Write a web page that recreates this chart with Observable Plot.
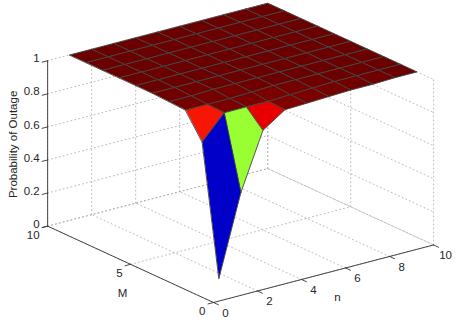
<!DOCTYPE html>
<html><head><meta charset="utf-8">
<script src="https://cdn.jsdelivr.net/npm/d3@7"></script>
<script src="https://cdn.jsdelivr.net/npm/@observablehq/plot@0.6"></script>
<style>html,body{margin:0;padding:0;background:#fff}svg{display:block}</style>
</head><body><div id="c"></div>
<script>
const nValues = [1,2,3,4,5,6,7,8,9,10];
const mValues = [1,2,3,4,5,6,7,8,9,10];
const outageM1  = [0.065,0.55,0.89,0.98,0.985,0.99,0.995,0.995,1,1];
const outageM2  = [0.844,0.985,0.986,0.985,0.99,0.995,1,1,1,1];
const outageM3  = [0.99,0.99,0.99,0.995,1,1,1,1,1,1];
const outageM4  = [0.995,0.995,1,1,1,1,1,1,1,1];
const outageM5  = [1,1,1,1,1,1,1,1,1,1];
const outageM6  = [1,1,1,1,1,1,1,1,1,1];
const outageM7  = [1,1,1,1,1,1,1,1,1,1];
const outageM8  = [1,1,1,1,1,1,1,1,1,1];
const outageM9  = [1,1,1,1,1,1,1,1,1,1];
const outageM10 = [1,1,1,1,1,1,1,1,1,1];
const outage = [outageM1,outageM2,outageM3,outageM4,outageM5,outageM6,outageM7,outageM8,outageM9,outageM10];
const nTicks = [0,2,4,6,8,10];
const mTicks = [0,5,10];
const zTicks = [0,0.2,0.4,0.6,0.8,1];
const zTickLabels = ["0","0.2","0.4","0.6","0.8","1"];
const colorStops = [0.065,0.55,0.87,1];
const colorRange = ["#0000c8","#99ff33","#ff0000","#6a0000"];

// orthographic view of the unit box
const az = -37*Math.PI/180, el = 20.3*Math.PI/180, zStretch = 0.64;
const px = (n,M) => n/10*Math.cos(az) + M/10*Math.sin(az);
const py = (n,M,z) => (-n/10*Math.sin(az)*-1*-1 + M/10*Math.cos(az))*Math.sin(el) + z*zStretch*Math.cos(el);
const P = (n,M,z) => ({X:px(n,M), Y:py(n,M,z), n, M, z});

const S = 275.6, x0 = 213, y0 = 302, W = 471, H = 336;

const zAt = (i,j) => outage[j][i];
const cells = [];
for (let j = mValues.length-2; j >= 0; j--) for (let i = nValues.length-2; i >= 0; i--) {
  const v = zAt(i,j), id = `${i}-${j}`;
  [[i,j],[i+1,j],[i+1,j+1],[i,j+1]].forEach(([a,b]) =>
    cells.push({...P(nValues[a],mValues[b],zAt(a,b)), cell:id, v}));
}
const seg = (list) => list.flatMap((ends,k) => ends.map(e => ({...P(...e), k})));
const gridSegs = seg([
  ...zTicks.map(z => [[0,10,z],[10,10,z]]),
  ...zTicks.map(z => [[10,10,z],[10,0,z]]),
  ...nTicks.map(n => [[n,10,0],[n,10,1]]),
  ...mTicks.map(M => [[10,M,0],[10,M,1]]),
  ...nTicks.map(n => [[n,0,0],[n,10,0]]),
  ...mTicks.map(M => [[0,M,0],[10,M,0]]),
]);
const axisSegs = seg([
  [[0,0,0],[10,0,0]],
  [[0,0,0],[0,10,0]],
  [[0,10,0],[0,10,1]],
  ...nTicks.map(n => [[n,0,0],[n,-0.3,0]]),
  ...mTicks.map(M => [[0,M,0],[-0.25,M,0]]),
  ...zTicks.map(z => [[0,10,z],[-0.25,10,z]]),
]);
const font = {fontFamily:"'Liberation Sans',Arial,sans-serif", fontSize:11.5, fill:"#262626"};

const chart = Plot.plot({
  width:W, height:H, margin:0, style:{background:"#fff",overflow:"visible"},
  x:{axis:null, domain:[(0-x0)/S,(W-x0)/S], range:[0,W]},
  y:{axis:null, domain:[(y0-H)/S,(y0-0)/S], range:[H,0]},
  color:{type:"linear", domain:colorStops, range:colorRange, interpolate:"rgb"},
  marks:[
    Plot.line(gridSegs,{x:"X",y:"Y",z:"k",stroke:"#aaa",strokeWidth:0.8,strokeDasharray:"1,3"}),
    Plot.line(axisSegs,{x:"X",y:"Y",z:"k",stroke:"#333",strokeWidth:0.9}),
    Plot.line(cells,{x:"X",y:"Y",z:"cell",fill:"v",stroke:"#444",strokeWidth:0.9,curve:"linear-closed"}),
    Plot.text(nTicks.map(n=>P(n,0,0)),{x:"X",y:"Y",text:d=>String(d.n),dx:12,dy:10.5,...font}),
    Plot.text(mTicks.map(M=>P(0,M,0)),{x:"X",y:"Y",text:d=>String(d.M),dx:-8,dy:9,textAnchor:"end",...font}),
    Plot.text(zTicks.map((z,i)=>({...P(0,10,z),t:zTickLabels[i]})),{x:"X",y:"Y",text:"t",dx:-8,dy:-2,textAnchor:"end",...font}),
    Plot.text([P(3.9,-2.3,0)],{x:"X",y:"Y",text:()=>"n",...font}),
    Plot.text([P(-2.05,2.77,0)],{x:"X",y:"Y",text:()=>"M",...font}),
    Plot.text([P(-1.55,10,0.548)],{x:"X",y:"Y",text:()=>"Probability of Outage",rotate:-90,...font}),
  ]
});
document.getElementById("c").append(chart);
</script></body></html>
